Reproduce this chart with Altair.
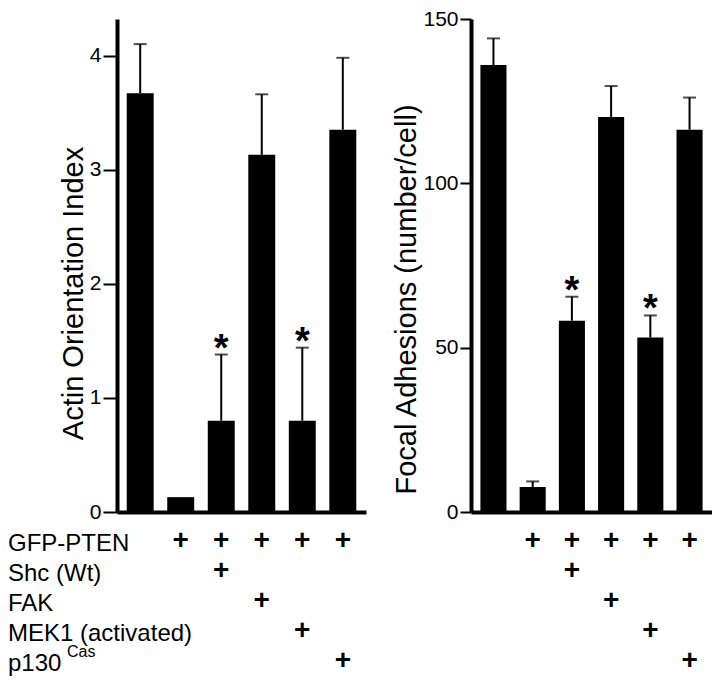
import altair as alt
import pandas as pd

# ---- data ----
conds = ["c1", "c2", "c3", "c4", "c5", "c6"]
actin_mean = [3.67, 0.13, 0.80, 3.13, 0.80, 3.35]
actin_upper = [4.10, 0.13, 1.38, 3.66, 1.44, 3.98]
fa_mean = [136.0, 7.6, 58.2, 120.2, 53.1, 116.3]
fa_upper = [144.1, 9.3, 65.5, 129.6, 59.8, 126.1]
stars = ["", "", "*", "", "*", ""]
actin_ticks = [0, 1, 2, 3, 4]
fa_ticks = [0, 50, 100, 150]
row_ids = ["GFP-PTEN", "Shc (Wt)", "FAK", "MEK1 (activated)", "p130"]
row_sup = ["", "", "", "", "Cas"]
plus_matrix = [
    [0, 1, 1, 1, 1, 1],
    [0, 0, 1, 0, 0, 0],
    [0, 0, 0, 1, 0, 0],
    [0, 0, 0, 0, 1, 0],
    [0, 0, 0, 0, 0, 1],
]

FONT = "Liberation Sans"
PI, PO = 0.335, 0.24
H = 493


def xscale():
    return alt.Scale(type="band", domain=conds, paddingInner=PI, paddingOuter=PO)


def bar_panel(mean, upper, ymax, ticks, title, width, tick_size, title_y):
    df = pd.DataFrame({"cond": conds, "mean": mean, "upper": upper, "star": stars})
    yscale = alt.Scale(domain=[0, ymax], nice=False, zero=True)
    yaxis = alt.Axis(values=ticks, format="d", title=title, titleFontSize=29,
                     titleFontWeight="normal", titleColor="black", titlePadding=1,
                     titleY=title_y,
                     labelFontSize=21, labelColor="black", labelPadding=2,
                     tickSize=tick_size, tickWidth=2, tickColor="black",
                     domainWidth=4, domainColor="black", grid=False)
    xaxis = alt.Axis(labels=False, ticks=False, title=None, domain=True,
                     domainWidth=4, domainColor="black", grid=False)
    xbar = alt.X("cond:N", sort=conds, scale=xscale(), axis=xaxis)
    xc = alt.X("cond:N", sort=conds, scale=xscale(), axis=xaxis, bandPosition=0.5)

    bars = alt.Chart(df).mark_bar(color="black").encode(
        x=xbar, y=alt.Y("mean:Q", scale=yscale, axis=yaxis))
    err = alt.Chart(df).transform_filter("datum.upper > datum.mean").mark_rule(
        color="black", strokeWidth=2).encode(
        x=xc, y=alt.Y("mean:Q", scale=yscale, axis=yaxis), y2="upper:Q")
    cap = alt.Chart(df).transform_filter("datum.upper > datum.mean").mark_tick(
        color="black", thickness=2, size=13, orient="horizontal").encode(
        x=xc, y=alt.Y("upper:Q", scale=yscale, axis=yaxis))
    star = alt.Chart(df).transform_filter("datum.star != ''").mark_text(
        fontSize=38, fontWeight="bold", baseline="alphabetic", dy=6, color="black").encode(
        x=xc, y=alt.Y("upper:Q", scale=yscale, axis=yaxis), text="star:N")
    return alt.layer(bars, err, cap, star).properties(width=width, height=H)


def table_panel(width, with_labels):
    recs = []
    for r, row in enumerate(row_ids):
        for c, cond in enumerate(conds):
            if plus_matrix[r][c]:
                recs.append({"row": row, "cond": cond, "mark": "+"})
    df = pd.DataFrame(recs)
    ys = alt.Y("row:N", sort=row_ids,
               scale=alt.Scale(type="point", domain=row_ids, padding=0.5), axis=None)
    xs = alt.X("cond:N", sort=conds, scale=xscale(), axis=None, bandPosition=0.5)
    layers = [alt.Chart(df).mark_text(fontSize=28, fontWeight="bold", baseline="middle",
                                      dy=-3, color="black").encode(x=xs, y=ys, text="mark:N")]
    if with_labels:
        lab = pd.DataFrame({"row": row_ids, "sup": row_sup})
        layers.append(alt.Chart(lab).mark_text(fontSize=24, align="left", baseline="middle",
                                               color="black").encode(
            x=alt.value(-109), y=ys, text="row:N"))
        layers.append(alt.Chart(lab).transform_filter("datum.sup != ''").mark_text(
            fontSize=16, align="left", baseline="middle", dy=-12, color="black").encode(
            x=alt.value(-109 + 59), y=ys, text="sup:N"))
    return alt.layer(*layers).properties(width=width, height=150)


left_bars = bar_panel(actin_mean, actin_upper, 4.32, actin_ticks,
                      "Actin Orientation Index", 249, 14, 274)
right_bars = bar_panel(fa_mean, fa_upper, 150, fa_ticks,
                       "Focal Adhesions (number/cell)", 241, 11, 280)
left_table = table_panel(249, True)
right_table = table_panel(241, False)

chart = alt.concat(left_bars, right_bars, left_table, right_table, columns=2,
                   spacing={"row": 5, "column": 26}, align="each").properties(
    padding=0
).configure(font=FONT).configure_view(stroke=None)

chart.save("out.html", embed_options={"renderer": "svg", "actions": False})
